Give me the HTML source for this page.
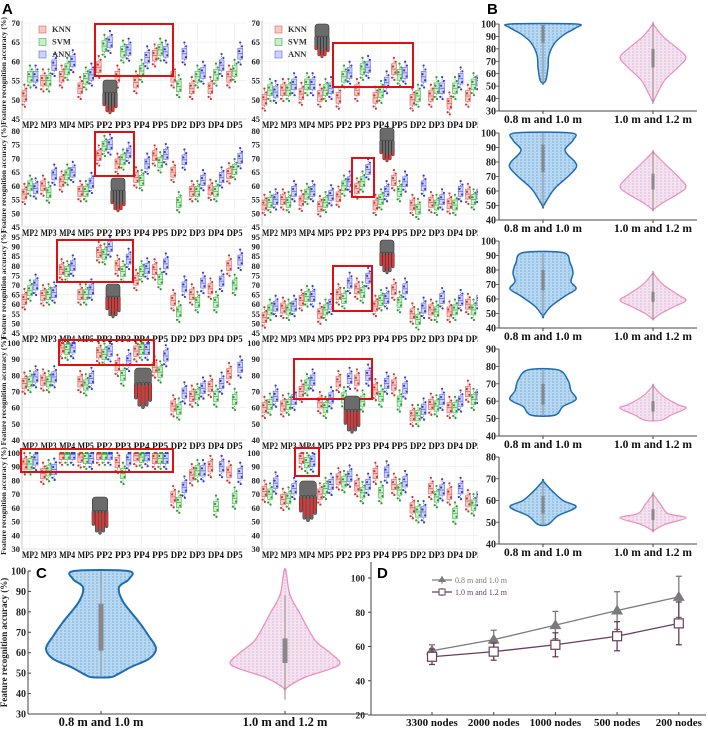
<!DOCTYPE html>
<html><head><meta charset="utf-8">
<style>
html,body{margin:0;padding:0;background:#fff;}
svg{display:block;font-family:"Liberation Serif",serif;}
.tk{font-size:9px;font-weight:bold;fill:#222;}
.xl{font-size:9px;font-weight:bold;fill:#111;}
.pl{font-family:"Liberation Sans",sans-serif;font-size:15px;font-weight:bold;fill:#000;}
</style></head>
<body>
<svg id="fig" width="708" height="729" viewBox="0 0 708 729">
<defs>
<pattern id="dotsBlue" width="4" height="3" patternUnits="userSpaceOnUse"><rect width="4" height="3" fill="#b7d8f3"/><circle cx="1" cy="1" r="0.6" fill="#5b8fc4"/></pattern>
<pattern id="dotsPink" width="4" height="3" patternUnits="userSpaceOnUse"><rect width="4" height="3" fill="#f8e0ee"/><circle cx="1" cy="1" r="0.6" fill="#a9b3da"/></pattern>
</defs>
<g id="A"></g>
<g id="B"></g>
<g id="C"></g>
<g id="D"></g>
</svg>
<script>
// ---------- Panel A data ----------
const groups = ["MP2","MP3","MP4","MP5","PP2","PP3","PP4","PP5","DP2","DP3","DP4","DP5"];
const classifiers = ["KNN","SVM","ANN"];
const knnR1L=[51,55,56,53,58.5,56,54.5,61.5,56,53,53,56];
const svmR1L=[56,55,58,55.5,64,62.5,57.5,63,53.5,56,56.5,57.5];
const annR1L=[56,59,60,56.5,65,63,61,62.5,62,57,59,62];
const knnR1R=[50,52.5,51.5,51,50.5,52.5,50.5,58,50,51,49,51];
const svmR1R=[52.5,52.5,54,52.5,56,58,52,56.5,51,53,53,54];
const annR1R=[52,54,54,53,57,58.5,54.5,57,56,53,55.5,55];
const knnR2L=[57,60,61.5,58,71,68,63,71,65,58,58.5,64.5];
const svmR2L=[60,57.5,64,58,74.5,69.5,62,68.5,54,58,58,66];
const annR2L=[59,64,65,61,75,72,68,71.5,69.5,62,63,70];
const knnR2R=[53,55,54.5,52.5,56,59,53,62,53,54,53.5,57];
const svmR2R=[54,54,57,54,60,61.5,55,58,51.5,53,53,55];
const annR2R=[55,58,58,56.5,61.5,66,58,61.5,60,55,58,57];
const knnR3L=[62.5,64.5,78,65,87,80,72.5,78,62,65,68,80];
const svmR3L=[67,65,77,65,86,77,77,73,56,61,61,70];
const annR3L=[70,66,80,67.5,90,83.5,78.5,81,69,71,72,83];
const knnR3R=[53,58,62,55,65,68,59,67.5,55,57,56,60];
const svmR3R=[57,57,64,57,63,66,62,61,52,56,57,57];
const annR3R=[59,59,64,60,71,73.5,63,68,58,63,62,62];
const knnR4L=[75,77,97,76,94,86,95,85,61,67,73,81];
const svmR4L=[76,76,96,74,93,80,96,82,59,68,67,65];
const annR4L=[79,79,97,78,95,89,96,92,69,72,75,85];
const knnR4R=[60,61,70,63,76,77,71,74,55,62,60,70];
const svmR4R=[62,62,74,60,66,64,67,64,55,61,60,65];
const annR4R=[67,65,77,66,78,80,75,72,59,65,64,68];
const knnR5L=[92,85,99,97,99,93,98,96,68,84,90,86];
const svmR5L=[92,87,99,96,99,85,97,96,64,87,61,67];
const annR5L=[95,88,99,96,99,95,98,96,75,87,90,85];
const knnR5R=[72,66,96,70,81,76,85,77,60,74,70,65];
const svmR5R=[70,67,93,74,79,71,71,73,57,68,56,62];
const annR5R=[78,74,94,77,83,77,86,79,57,73,74,68];
const spreadA=[1.4,1.8,2.6,3.2,3.8];
const yMinA=[45,45,45,40,30], yMaxA=[70,80,95,100,100];
const yTicksA=[[45,50,55,60,65,70],[45,50,55,60,65,70,75,80],[45,50,55,60,65,70,75,80,85,90,95],[40,50,60,70,80,90,100],[30,40,50,60,70,80,90,100]];

// ---------- Panel B data ----------
const bTicks=[[30,40,50,60,70,80,90,100],[40,50,60,70,80,90,100],[40,50,60,70,80,90,100],[40,50,60,70,80,90],[40,50,60,70,80]];
const bLevelsL=[[100,97,92,85,75,65,55,52],[100,95,88,80,76,70,62,55,49],[92,85,78,72,67,62,55,48],[78,72,66,61,57,52],[69,64,60,57,53,49]];
const bDensL=[[33,33,22,12,6,5,3,0],[28,30,22,32,33,25,12,5,0],[20,27,30,28,33,22,8,0],[15,25,28,33,20,12],[0,10,20,33,15,5]];
const bLevelsR=[[100,90,80,73,65,55,45,37],[87,80,70,63,58,52,47],[78,70,63,59,55,50,46],[69,63,58,56,52,49],[63,58,54,52,49,46]];
const bDensR=[[0,10,25,33,25,12,5,0],[0,10,25,33,25,10,0],[0,10,25,33,22,8,0],[0,10,25,33,18,8],[0,8,15,33,12,0]];
const bBoxL=[[85,99],[73,92],[66,80],[58,70],[54,62]];
const bBoxR=[[65,80],[61,72],[58,65],[54,60],[51,56]];

// ---------- Panel C data ----------
const cTicks=[30,40,50,60,70,80,90,100];
const cLevelsL=[100,96,92,85,75,68,62,57,53,49,48];
const cDensL=[27,28,18,22,38,48,55,48,30,15,9];
const cLevelsR=[100,90,85,80,70,65,60,55,52,48,44,42];
const cDensR=[1,4,8,14,25,32,45,55,45,20,5,0];
const cBoxL=[61,84], cBoxR=[55,67], cWhiskR=[37,88];

// ---------- Panel D data ----------
const dCats=["3300 nodes","2000 nodes","1000 nodes","500 nodes","200 nodes"];
const dTicks=[20,40,60,80,100];
const dMean1=[57.5,64,72.5,81,89];
const dErr1=[3.5,5.5,8,11,12];
const dMean2=[54,57,61,66,73.5];
const dErr2=[4.5,5,7,8.5,12.5];

const NS="http://www.w3.org/2000/svg";
function mk(parent,tag,attrs,text){const e=document.createElementNS(NS,tag);for(const k in attrs)e.setAttribute(k,attrs[k]);if(text!==undefined)e.textContent=text;parent.appendChild(e);return e;}

// ---------- Panel A ----------
const gA=document.getElementById('A');
const rowTop=[23,131,237,343,453], rowBot=[119,227,333,440,549];
const cols=[{ax:22,x0:30,step:18.6,right:247},{ax:262,x0:270,step:18.5,right:480}];
const dataSets=[[[knnR1L,svmR1L,annR1L],[knnR1R,svmR1R,annR1R]],[[knnR2L,svmR2L,annR2L],[knnR2R,svmR2R,annR2R]],[[knnR3L,svmR3L,annR3L],[knnR3R,svmR3R,annR3R]],[[knnR4L,svmR4L,annR4L],[knnR4R,svmR4R,annR4R]],[[knnR5L,svmR5L,annR5L],[knnR5R,svmR5R,annR5R]]];
const fills=["#f5c9c5","#c9eec9","#cfd2f7"], strokes=["#d9625c","#45b04f","#6266e2"], dotc=["#d3332e","#24a02c","#3339d6"];
const redBoxes=[[[95,24,173,76],[333,43,413,87]],[[95,132,134,176],[352,158,374,197]],[[57,240,133,282],[333,266,372,311]],[[59,340,154,365],[294,359,372,399]],[[21,449,173,472],[295,448,319,476]]];
const hands=[[[110,80,1],[322,24,1]],[[118,178,1],[387,128,1]],[[113,284,1],[387,240,1]],[[143,368,1.2],[352,396,1.1]],[[100,497,1.1],[308,481,1.2]]];
const dotPattern=[[-1.8,-2],[1.5,-0.8],[-1,0.6],[1.8,1.7],[0,2.6],[0.5,-2.5]];

function drawHand(p,cx,top,s,reds){
  const g=mk(p,'g',{});
  
  
  mk(g,'rect',{x:cx-7*s,y:top,width:14*s,height:14*s,rx:3*s,fill:'#6b6b6b',stroke:'#333','stroke-width':0.6});
  const fx=[-6,-3,0,3,6], fl=[14,20,22,20,16];
  for(let i=0;i<5;i++){
    const x=cx+fx[i]*s, y0=top+12*s;
    mk(g,'rect',{x:x-1.3*s,y:y0,width:2.6*s,height:fl[i]*s,rx:1.2*s,fill:'#6b6b6b',stroke:'#333','stroke-width':0.5});
    if(reds){mk(g,'rect',{x:x-1.1*s,y:y0+(reds===1?fl[i]*0.7:2)*s,width:2.2*s,height:(reds===1?fl[i]*0.3:fl[i]*0.75)*s,rx:1*s,fill:'#d43a3a'});}
  }
}

for(let r=0;r<5;r++){
  for(let c=0;c<2;c++){
    const col=cols[c], top=rowTop[r], bot=rowBot[r];
    const y=v=>bot-(v-yMinA[r])/(yMaxA[r]-yMinA[r])*(bot-top);
    const sp=mk(gA,'g',{});
    
    
    for(const t of yTicksA[r]){
      mk(sp,'line',{x1:col.ax,x2:col.right,y1:y(t),y2:y(t),stroke:'#ececec','stroke-width':0.6});
      const tl=mk(sp,'text',{x:col.ax-2,y:y(t)+3,'text-anchor':'end',class:'tk',style:'font-size:8.5px'},t);
      
      
    }
    groups.forEach((gname,gi)=>{const gx=col.x0+gi*col.step;mk(sp,'line',{x1:gx,x2:gx,y1:top,y2:bot,stroke:'#f0f0f0','stroke-width':0.6});});
    mk(sp,'line',{x1:col.ax,x2:col.ax,y1:top-3,y2:bot,stroke:'#bbb','stroke-width':0.8});
    mk(sp,'line',{x1:col.ax,x2:col.right,y1:bot,y2:bot,stroke:'#ddd','stroke-width':0.8});
    const sets=dataSets[r][c], s=spreadA[r];
    groups.forEach((gname,gi)=>{
      const gx=col.x0+gi*col.step;
      for(let k=0;k<3;k++){
        const m=sets[k][gi], bx=gx+(k-1)*5.6;
        const hiV=Math.min(m+s*2.2,yMaxA[r]), loV=m-s*2.2;
        mk(sp,'line',{x1:bx,x2:bx,y1:y(hiV),y2:y(loV),stroke:strokes[k],'stroke-width':0.7,'stroke-dasharray':'1.2,1'});
        const b=mk(sp,'rect',{x:bx-2.4,y:y(Math.min(m+s,yMaxA[r])),width:4.8,height:Math.max(1.5,y(m-s)-y(Math.min(m+s,yMaxA[r]))),fill:fills[k],stroke:strokes[k],'stroke-width':0.6});
        
        
        mk(sp,'line',{x1:bx-2.4,x2:bx+2.4,y1:y(m),y2:y(m),stroke:strokes[k],'stroke-width':0.8});
        for(const d of dotPattern){const dv=Math.min(m+d[1]*s*0.8,yMaxA[r]);mk(sp,'circle',{cx:bx+d[0],cy:y(dv),r:1.1,fill:dotc[k]});}
      }
      const xl=mk(sp,'text',{x:gx,y:bot+9,'text-anchor':'middle',class:'xl',textLength:16,lengthAdjust:'spacingAndGlyphs'},gname);
      
      
    });
    const rb=redBoxes[r][c];
    const rr=mk(sp,'rect',{x:rb[0],y:rb[1],width:rb[2]-rb[0],height:rb[3]-rb[1],fill:'none',stroke:'#e01010','stroke-width':2});
    
    
    const h=hands[r][c];
    drawHand(sp,h[0],h[1],h[2],r<2?1:2);
    if(c===0){
      const yt=mk(sp,'text',{transform:`translate(6,${(top+bot)/2}) rotate(-90)`,'text-anchor':'middle',style:'font-size:7.5px;font-weight:bold;fill:#222'},'Feature recognition accuracy (%)');
      
      
    }
    if(r===0){
      const lx=c?275:39;
      classifiers.forEach((cl,k)=>{
        const le=mk(sp,'g',{});
        
        
        mk(le,'rect',{x:lx,y:26+k*12.5,width:7,height:7,fill:fills[k],stroke:strokes[k],'stroke-width':0.6});
        mk(le,'text',{x:lx+13,y:32+k*12.5,style:'font-size:8.5px;font-weight:bold;fill:#333'},cl);
      });
    }
  }
}
const la=mk(gA,'text',{x:2,y:14,class:'pl'},'A');



function violinPath(cx,levels,dens,yf,wScale){
  const right=levels.map((v,i)=>[cx+dens[i]*wScale,yf(v)]);
  const left=levels.map((v,i)=>[cx-dens[i]*wScale,yf(v)]).reverse();
  const pts=right.concat(left);
  let d=`M${pts[0][0]},${pts[0][1]}`;
  const n=pts.length;
  for(let i=0;i<n;i++){
    const p0=pts[(i-1+n)%n],p1=pts[i],p2=pts[(i+1)%n],p3=pts[(i+2)%n];
    const c1=[p1[0]+(p2[0]-p0[0])/6,p1[1]+(p2[1]-p0[1])/6];
    const c2=[p2[0]-(p3[0]-p1[0])/6,p2[1]-(p3[1]-p1[1])/6];
    d+=` C${c1[0]},${c1[1]} ${c2[0]},${c2[1]} ${p2[0]},${p2[1]}`;
  }
  return d+'Z';
}

// ---------- Panel B ----------
const gB=document.getElementById('B');
mk(gB,'rect',{x:478,y:0,width:230,height:558,fill:'#fff'});
const bTop=[24,133,241,349,457], bBot=[111,220,328,436,544];
const bLeft=499,bRight=697,bCx=[543,653];
for(let r=0;r<5;r++){
  const t=bTicks[r], mn=t[0], mx=t[t.length-1];
  const y=v=>bBot[r]-(v-mn)/(mx-mn)*(bBot[r]-bTop[r]);
  const g=mk(gB,'g',{});
  
  
  mk(g,'line',{x1:bLeft,x2:bLeft,y1:bTop[r],y2:bBot[r],stroke:'#444','stroke-width':1});
  mk(g,'line',{x1:bLeft,x2:bRight,y1:bBot[r],y2:bBot[r],stroke:'#444','stroke-width':1});
  for(const v of t){
    mk(g,'line',{x1:bLeft-3,x2:bLeft,y1:y(v),y2:y(v),stroke:'#444','stroke-width':0.8});
    const tl=mk(g,'text',{x:bLeft-3,y:y(v)+3.5,'text-anchor':'end',class:'tk',style:'font-size:10px'},v);
    
    
  }
  const vl=mk(g,'path',{d:violinPath(bCx[0],bLevelsL[r],bDensL[r],y,1),fill:'url(#dotsBlue)',stroke:'#1d6db5','stroke-width':1.5});
  
  
  const vr=mk(g,'path',{d:violinPath(bCx[1],bLevelsR[r],bDensR[r],y,1),fill:'url(#dotsPink)',stroke:'#ec8fc0','stroke-width':1.2});
  
  
  const lvL=bLevelsL[r], lvR=bLevelsR[r];
  mk(g,'line',{x1:bCx[0],x2:bCx[0],y1:y(lvL[0]),y2:y(lvL[lvL.length-1]),stroke:'#888','stroke-width':1});
  mk(g,'line',{x1:bCx[1],x2:bCx[1],y1:y(lvR[0]),y2:y(lvR[lvR.length-1]),stroke:'#888','stroke-width':1});
  mk(g,'rect',{x:bCx[0]-1.5,y:y(bBoxL[r][1]),width:3,height:y(bBoxL[r][0])-y(bBoxL[r][1]),fill:'#888'});
  mk(g,'rect',{x:bCx[1]-1.5,y:y(bBoxR[r][1]),width:3,height:y(bBoxR[r][0])-y(bBoxR[r][1]),fill:'#888'});
  ["0.8 m and 1.0 m","1.0 m and 1.2 m"].forEach((lab,i)=>{
    mk(g,'line',{x1:bCx[i],x2:bCx[i],y1:bBot[r],y2:bBot[r]+3,stroke:'#444'});
    const xl=mk(g,'text',{x:bCx[i],y:bBot[r]+12,'text-anchor':'middle',style:'font-size:11.5px;font-weight:bold;fill:#111'},lab);
    
    
  });
}
const lb=mk(gB,'text',{x:487,y:14,class:'pl'},'B');



// ---------- Panel C ----------
const gC=document.getElementById('C');
const cTop=571,cBot=714,cLeft=28,cRight=368,cCx=[101,285];
const yc=v=>cBot-(v-30)/70*(cBot-cTop);
mk(gC,'line',{x1:cLeft,x2:cLeft,y1:cTop,y2:cBot,stroke:'#444','stroke-width':1});
mk(gC,'line',{x1:cLeft,x2:cRight,y1:cBot,y2:cBot,stroke:'#444','stroke-width':1});
for(const v of cTicks){
  mk(gC,'line',{x1:cLeft,x2:cLeft+3,y1:yc(v),y2:yc(v),stroke:'#444'});
  const tl=mk(gC,'text',{x:cLeft-2,y:yc(v)+3.5,'text-anchor':'end',class:'tk',style:'font-size:10px'},v);
  
  
}
const cyt=mk(gC,'text',{transform:`translate(7,${(cTop+cBot)/2}) rotate(-90)`,'text-anchor':'middle',style:'font-size:9px;font-weight:bold;fill:#222'},'Feature recognition accuracy (%)');


const cvl=mk(gC,'path',{d:violinPath(cCx[0],cLevelsL,cDensL,yc,1),fill:'url(#dotsBlue)',stroke:'#1d6db5','stroke-width':2});


const cvr=mk(gC,'path',{d:violinPath(cCx[1],cLevelsR,cDensR,yc,1),fill:'url(#dotsPink)',stroke:'#ec8fc0','stroke-width':1.3});


mk(gC,'line',{x1:cCx[0],x2:cCx[0],y1:yc(100),y2:yc(48),stroke:'#888','stroke-width':1});
mk(gC,'line',{x1:cCx[1],x2:cCx[1],y1:yc(cWhiskR[1]),y2:yc(cWhiskR[0]),stroke:'#888','stroke-width':1});
mk(gC,'rect',{x:cCx[0]-2.5,y:yc(cBoxL[1]),width:5,height:yc(cBoxL[0])-yc(cBoxL[1]),fill:'#888'});
mk(gC,'rect',{x:cCx[1]-2.5,y:yc(cBoxR[1]),width:5,height:yc(cBoxR[0])-yc(cBoxR[1]),fill:'#888'});
["0.8 m and 1.0 m","1.0 m and 1.2 m"].forEach((lab,i)=>{
  mk(gC,'line',{x1:cCx[i],x2:cCx[i],y1:cBot,y2:cBot-3,stroke:'#444'});
  const xl=mk(gC,'text',{x:cCx[i],y:cBot+12,'text-anchor':'middle',style:'font-size:12.5px;font-weight:bold;fill:#111'},lab);
  
  
});
const lc=mk(gC,'text',{x:36,y:578,class:'pl'},'C');



// ---------- Panel D ----------
const gD=document.getElementById('D');
const dAx=371,dRight=706,dBot=715;
const yd=v=>dBot-(v-20)*1.7125;
const xd=i=>432+i*61.7;
mk(gD,'line',{x1:dAx,x2:dAx,y1:562,y2:dBot,stroke:'#444','stroke-width':1});
mk(gD,'line',{x1:dAx,x2:dRight,y1:dBot,y2:dBot,stroke:'#444','stroke-width':1});
for(const v of dTicks){
  mk(gD,'line',{x1:dAx-3,x2:dAx,y1:yd(v),y2:yd(v),stroke:'#444'});
  const tl=mk(gD,'text',{x:dAx-6,y:yd(v)+3.5,'text-anchor':'end',class:'tk',style:'font-size:9.5px'},v);
  
  
}
dCats.forEach((cat,i)=>{
  mk(gD,'line',{x1:xd(i),x2:xd(i),y1:dBot,y2:dBot-3,stroke:'#444'});
  const xl=mk(gD,'text',{x:xd(i),y:dBot+11,'text-anchor':'middle',style:'font-size:11px;font-weight:bold;fill:#111'},cat);
  
  
});
function series(means,errs,color,marker,name){
  const g=mk(gD,'g',{});
  
  
  mk(g,'polyline',{points:means.map((m,i)=>xd(i)+','+yd(m)).join(' '),fill:'none',stroke:color,'stroke-width':1.3});
  means.forEach((m,i)=>{
    const x=xd(i);
    mk(g,'line',{x1:x,x2:x,y1:yd(m+errs[i]),y2:yd(m-errs[i]),stroke:color,'stroke-width':1.3});
    mk(g,'line',{x1:x-3,x2:x+3,y1:yd(m+errs[i]),y2:yd(m+errs[i]),stroke:color,'stroke-width':1.3});
    mk(g,'line',{x1:x-3,x2:x+3,y1:yd(m-errs[i]),y2:yd(m-errs[i]),stroke:color,'stroke-width':1.3});
    let mkEl;
    if(marker==='tri'){mkEl=mk(g,'polygon',{points:`${x},${yd(m)-6} ${x-6},${yd(m)+4} ${x+6},${yd(m)+4}`,fill:color});}
    else{mkEl=mk(g,'rect',{x:x-4.5,y:yd(m)-4.5,width:9,height:9,fill:'#fff',stroke:color,'stroke-width':1.2});}
    
    
  });
}
series(dMean1,dErr1,'#7b7b7b','tri','series-0.8-1.0m');
series(dMean2,dErr2,'#6a3c62','sq','series-1.0-1.2m');
[["0.8 m and 1.0 m",'#7b7b7b','tri'],["1.0 m and 1.2 m",'#6a3c62','sq']].forEach((e,k)=>{
  const g=mk(gD,'g',{});
  
  
  const yy=580+k*12;
  mk(g,'line',{x1:432,x2:452,y1:yy,y2:yy,stroke:e[1],'stroke-width':1.2});
  mk(g,'line',{x1:442,x2:442,y1:yy-4,y2:yy+4,stroke:e[1]});
  if(e[2]==='tri')mk(g,'polygon',{points:`442,${yy-4} 438,${yy+2} 446,${yy+2}`,fill:e[1]});
  else mk(g,'rect',{x:439,y:yy-3,width:6,height:6,fill:'#fff',stroke:e[1]});
  mk(g,'text',{x:455,y:yy+3,style:'font-size:8px;fill:'+e[1]},e[0]);
});
const ld=mk(gD,'text',{x:377,y:578,class:'pl'},'D');


</script>
</body></html>
